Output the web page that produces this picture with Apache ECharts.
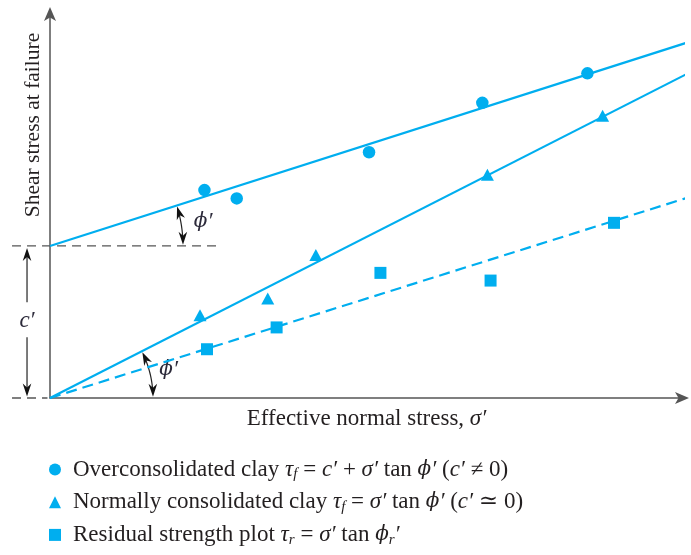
<!DOCTYPE html>
<html>
<head>
<meta charset="utf-8">
<script src="https://cdn.jsdelivr.net/npm/echarts@6/dist/echarts.min.js"></script>
<style>html,body{margin:0;padding:0;background:#fff}#c{width:691px;height:555px}</style>
</head>
<body>
<div id="c"></div>
<script>
// ---- data (arbitrary stress units) ----
const ocX = [24.4, 29.5, 50.4, 68.3, 84.9];
const ocY = [32.4, 31.1, 38.3, 46.0, 50.6];
const ncX = [23.7, 34.4, 42.0, 69.1, 87.3];
const ncY = [12.9, 15.5, 22.3, 34.8, 44.0];
const rsX = [24.8, 35.8, 52.2, 69.6, 89.1];
const rsY = [7.6, 11.0, 19.5, 18.3, 27.3];
const ocFitX = [0, 101.3], ocFitY = [23.7, 55.6];
const ncFitX = [0, 101.3], ncFitY = [0, 50.85];
const rsFitX = [0, 101.3], rsFitY = [0, 31.4];
const cPrime = 23.7;
const seriesNames = ['Overconsolidated clay', 'Normally consolidated clay', 'Residual strength plot'];
const xTitle = 'Effective normal stress, ';
const yTitle = 'Shear stress at failure';

const CYAN = '#00AEEF';
const INK = '#231f20';
const SERIF = '"Liberation Serif","DejaVu Serif",serif';
const GREEK = '"DejaVu Serif",serif';
const zip = (a, b) => a.map((v, i) => [v, b[i]]);

const chart = echarts.init(document.getElementById('c'), null, {renderer: 'canvas'});

const lineSeries = (xs, ys, dashed) => ({
  type: 'line', data: zip(xs, ys), showSymbol: false, clip: false, silent: true, z: 2,
  lineStyle: {color: CYAN, width: 2.2, type: dashed ? [11, 6] : 'solid'}
});
const scatter = (name, xs, ys, sym, size) => ({
  type: 'scatter', name, data: zip(xs, ys), symbol: sym, symbolSize: size, z: 3,
  itemStyle: {color: CYAN, opacity: 1}
});

const FS = 23;
const rich = {
  sp: {width: 7},
  t: {fontFamily: SERIF, fontSize: FS, color: INK, lineHeight: 25},
  i: {fontFamily: SERIF, fontSize: FS, fontStyle: 'italic', color: INK, lineHeight: 25},
  g: {fontFamily: GREEK, fontSize: 20, fontStyle: 'italic', color: INK, lineHeight: 25},
  sub: {fontFamily: SERIF, fontSize: 15, fontStyle: 'italic', color: INK, lineHeight: 15, verticalAlign: 'bottom'}
};
const legendText = {
  [seriesNames[0]]: '{sp|}{t|Overconsolidated clay }{i|τ}{sub|f}{t| = }{i|c′}{t| + }{i|σ′}{t| tan }{g|ϕ}{i|′}{t| (}{i|c′}{t| ≠ 0)}',
  [seriesNames[1]]: '{sp|}{t|Normally consolidated clay }{i|τ}{sub|f}{t| = }{i|σ′}{t| tan }{g|ϕ}{i|′}{t| (}{i|c′}{t| ≃ 0)}',
  [seriesNames[2]]: '{sp|}{t|Residual strength plot }{i|τ}{sub|r}{t| = }{i|σ′}{t| tan }{g|ϕ}{sub|r}{i|′}'
};

chart.setOption({
  animation: false,
  backgroundColor: '#fff',
  grid: {left: 50, top: 13, width: 633, height: 385},
  xAxis: {
    type: 'value', min: 0, max: 100,
    axisLine: {lineStyle: {color: '#555', width: 1.5}, symbol: ['none', 'arrow'], symbolSize: [9, 14], symbolOffset: [0, 6]},
    axisTick: {show: false}, axisLabel: {show: false}, splitLine: {show: false},
    name: '{a|' + xTitle + '}{i|σ′}', nameLocation: 'middle', nameGap: 9,
    nameTextStyle: {rich: {a: {fontFamily: SERIF, fontSize: FS, color: INK}, i: {fontFamily: SERIF, fontSize: FS, fontStyle: 'italic', color: INK}}}
  },
  yAxis: {
    type: 'value', min: 0, max: 60,
    axisLine: {lineStyle: {color: '#555', width: 1.5}, symbol: ['none', 'arrow'], symbolSize: [9, 14], symbolOffset: [0, 6]},
    axisTick: {show: false}, axisLabel: {show: false}, splitLine: {show: false}
  },
  legend: {
    orient: 'vertical', left: 44, top: 453, itemWidth: 12, itemHeight: 12, itemGap: 8.7,
    selectedMode: false,
    data: [
      {name: seriesNames[0], icon: 'circle'},
      {name: seriesNames[1], icon: 'triangle'},
      {name: seriesNames[2], icon: 'rect'}
    ],
    formatter: n => legendText[n],
    textStyle: {rich}
  },
  series: [
    lineSeries(ocFitX, ocFitY, false),
    lineSeries(ncFitX, ncFitY, false),
    lineSeries(rsFitX, rsFitY, true),
    scatter(seriesNames[0], ocX, ocY, 'circle', 12.5),
    scatter(seriesNames[1], ncX, ncY, 'triangle', [13, 12]),
    scatter(seriesNames[2], rsX, rsY, 'rect', 12)
  ]
});

// ---- annotations positioned through the chart's own scales ----
const P = (x, y) => chart.convertToPixel({gridIndex: 0}, [x, y]);
function head(tx, ty, ang) {
  const L = 13, W = 4.3, N = 4;
  const c = Math.cos(ang), s = Math.sin(ang);
  const bx = tx - L * c, by = ty - L * s, px = -s, py = c;
  return [[tx, ty], [bx + W * px, by + W * py], [tx - (L - N) * c, ty - (L - N) * s], [bx - W * px, by - W * py]];
}
const g = [];
const dashStyle = {stroke: '#555', lineWidth: 1.3, lineDash: [9, 6]};
const a0 = P(-6, cPrime), a1 = P(26.5, cPrime);
g.push({type: 'line', shape: {x1: a0[0], y1: a0[1], x2: a1[0], y2: a1[1]}, style: dashStyle, silent: true});
const b0 = P(-6, 0), b1 = P(-0.4, 0);
g.push({type: 'line', shape: {x1: b0[0], y1: b0[1], x2: b1[0], y2: b1[1]}, style: dashStyle, silent: true});

// c' double arrow
const cx = P(-3.63, 0)[0];
const cTop = P(0, cPrime)[1] + 2, cBot = P(0, 0)[1] - 1.5;
const cMid = (cTop + cBot) / 2;
const arrowStyle = {stroke: '#222', lineWidth: 1.2};
g.push({type: 'line', shape: {x1: cx, y1: cTop + 8, x2: cx, y2: cMid - 20}, style: arrowStyle, silent: true});
g.push({type: 'line', shape: {x1: cx, y1: cMid + 15, x2: cx, y2: cBot - 8}, style: arrowStyle, silent: true});
g.push({type: 'polygon', shape: {points: head(cx, cTop, -Math.PI / 2)}, style: {fill: '#111'}, silent: true});
g.push({type: 'polygon', shape: {points: head(cx, cBot, Math.PI / 2)}, style: {fill: '#111'}, silent: true});
g.push({type: 'text', x: cx, y: cMid - 1, style: {text: 'c′', font: 'italic 23px ' + SERIF, fill: '#2c2a3a', align: 'center', verticalAlign: 'middle'}, silent: true});

// phi' arcs
function phiArc(center, far, r, lab) {
  const th = Math.atan2(center[1] - far[1], far[0] - center[0]);
  const e0 = -th + 1.2 / r, e1 = -1.2 / r;
  const pts = [];
  const s0 = e0 + 8 / r, s1 = e1 - 8 / r;
  for (let k = 0; k <= 24; k++) {
    const a = s0 + (s1 - s0) * k / 24;
    pts.push([center[0] + r * Math.cos(a), center[1] + r * Math.sin(a)]);
  }
  g.push({type: 'polyline', shape: {points: pts}, style: {stroke: '#222', lineWidth: 1.2, fill: null}, silent: true});
  const t0 = [center[0] + r * Math.cos(e0), center[1] + r * Math.sin(e0)];
  const t1 = [center[0] + r * Math.cos(e1), center[1] + r * Math.sin(e1)];
  g.push({type: 'polygon', shape: {points: head(t0[0], t0[1], Math.atan2(-Math.cos(e0), Math.sin(e0)))}, style: {fill: '#111'}, silent: true});
  g.push({type: 'polygon', shape: {points: head(t1[0], t1[1], Math.atan2(Math.cos(e1), -Math.sin(e1)))}, style: {fill: '#111'}, silent: true});
  const am = -th / 2;
  g.push({type: 'text', x: center[0] + (r + lab) * Math.cos(am), y: center[1] + (r + lab) * Math.sin(am),
    style: {text: '{g|ϕ}{p|′}', align: 'center', verticalAlign: 'middle',
      rich: {g: {fontFamily: GREEK, fontSize: 20, fontStyle: 'italic', fill: '#2c2a3a'},
             p: {fontFamily: SERIF, fontSize: 23, fontStyle: 'italic', fill: '#2c2a3a'}}}, silent: true});
}
phiArc(P(ocFitX[0], ocFitY[0]), P(ocFitX[1], ocFitY[1]), 133, 22);
phiArc(P(ncFitX[0], ncFitY[0]), P(ncFitX[1], ncFitY[1]), 103, 19);

// y axis title
g.push({type: 'text', x: 33, y: 125, rotation: Math.PI / 2,
  style: {text: yTitle, font: '21.5px ' + SERIF, fill: INK, align: 'center', verticalAlign: 'middle'}, silent: true});

chart.setOption({graphic: g});
</script>
</body>
</html>
